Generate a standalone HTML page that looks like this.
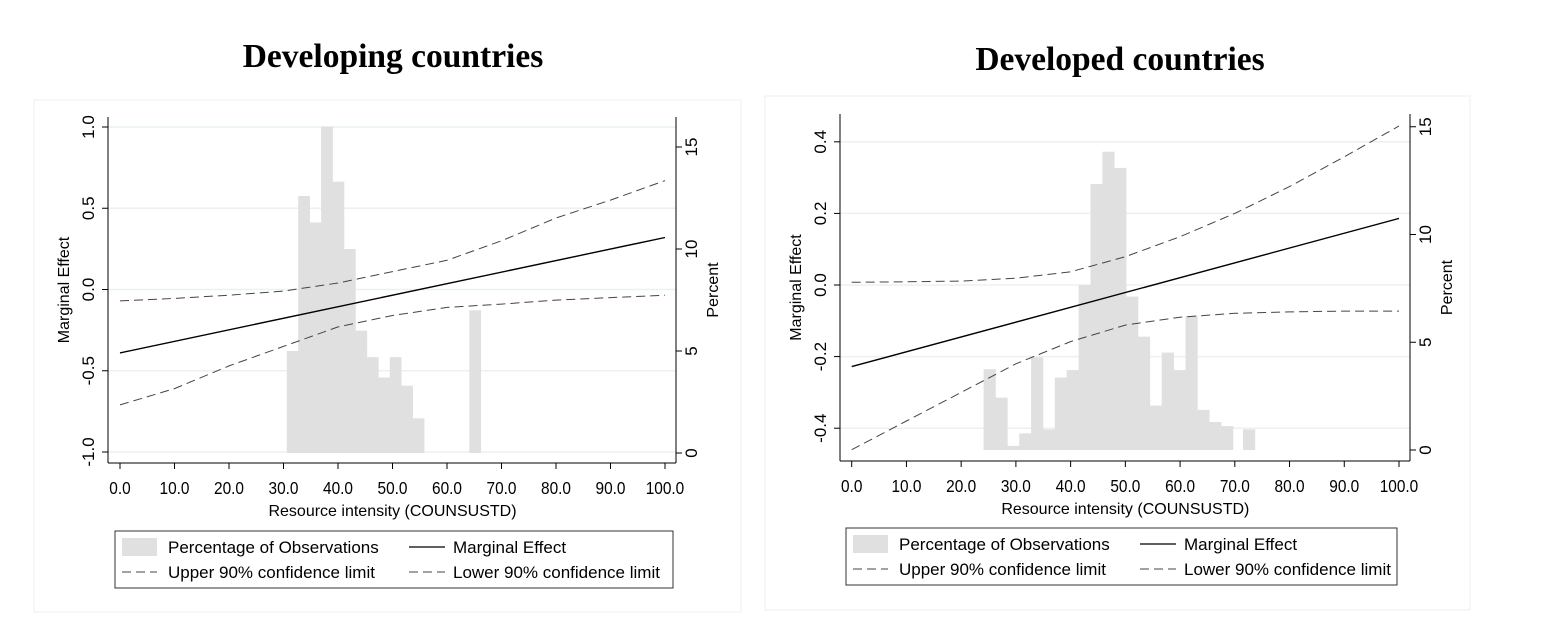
<!DOCTYPE html>
<html><head><meta charset="utf-8"><style>
body{margin:0;background:#fff;width:1552px;height:636px;overflow:hidden;font-family:"Liberation Sans",sans-serif}
svg text{font-family:"Liberation Sans",sans-serif}
</style></head><body>
<svg id="s" width="1552" height="636" xmlns="http://www.w3.org/2000/svg">
<rect x="34" y="100" width="707" height="512" fill="none" stroke="#eef0f0"/>
<rect x="765" y="96" width="705" height="514" fill="none" stroke="#eef0f0"/>
<text x="393" y="67" text-anchor="middle" font-weight="bold" font-size="33.5" style="font-family:'Liberation Serif',serif">Developing countries</text>
<text x="1120" y="70" text-anchor="middle" font-weight="bold" font-size="33.5" style="font-family:'Liberation Serif',serif">Developed countries</text>
</svg>
<script>
// Developing countries data
const devBinStart = [30.6,32.7,34.8,36.9,39.0,41.1,43.2,45.3,47.4,49.5,51.6,53.7,64.1];
const devBinPct = [5.0,12.6,11.3,16.0,13.3,10.0,6.0,4.7,3.7,4.7,3.3,1.7,7.0];
const devMeX = [0,100];
const devMe = [-0.39,0.32];
const devCiX = [0,10,20,30,40,50,60,70,80,90,100];
const devUpper = [-0.07,-0.055,-0.035,-0.01,0.04,0.11,0.18,0.30,0.44,0.55,0.67];
const devLower = [-0.71,-0.61,-0.47,-0.35,-0.23,-0.16,-0.11,-0.09,-0.065,-0.05,-0.035];
const devLeftTicks = ["-1.0","-0.5","0.0","0.5","1.0"];
const devRightTicks = ["0","5","10","15"];
// Developed countries data
const dvdBinStart = [24.1,26.27,28.44,30.61,32.78,34.95,37.12,39.29,41.46,43.63,45.8,47.97,50.14,52.31,54.48,56.65,58.82,60.99,63.16,65.33,67.5,71.5];
const dvdBinPct = [3.75,2.43,0.19,0.77,4.3,0.96,3.36,3.71,7.66,12.34,13.84,13.09,7.12,5.26,2.06,4.52,3.71,6.22,1.86,1.30,1.11,0.96];
const dvdMeX = [0,100];
const dvdMe = [-0.228,0.186];
const dvdCiX = [0,10,20,30,40,50,60,70,80,90,100];
const dvdUpper = [0.0075,0.009,0.011,0.019,0.037,0.079,0.135,0.2,0.275,0.358,0.444];
const dvdLower = [-0.46,-0.38,-0.30,-0.22,-0.158,-0.112,-0.09,-0.079,-0.075,-0.073,-0.073];
const dvdLeftTicks = ["-0.4","-0.2","0.0","0.2","0.4"];
const dvdRightTicks = ["0","5","10","15"];
const xTicks = ["0.0","10.0","20.0","30.0","40.0","50.0","60.0","70.0","80.0","90.0","100.0"];

const svg=document.getElementById('s');
const NS='http://www.w3.org/2000/svg';
function mk(tag,attrs,parent){const e=document.createElementNS(NS,tag);for(const k in attrs)e.setAttribute(k,attrs[k]);(parent||svg).appendChild(e);return e;}

function drawChart(c){
  const g=mk('g',{});
  
  
  const xs=v=>c.x0+(v-0)*(c.x100-c.x0)/100;
  const ys=v=>c.yZero+(v-c.lMid)*c.lPx;
  const ps=v=>c.pZero-v*c.pPx;
  c.leftTicks.forEach(t=>{const v=parseFloat(t);const y=ys(v);
    const l=mk('line',{x1:c.axL,x2:c.axR,y1:y,y2:y,stroke:'#eaf1f1','stroke-width':1.5},g);
    });
  const bw=c.binW*(c.x100-c.x0)/100;
  c.binStart.forEach((b,i)=>{const x=xs(b);const y=ps(c.binPct[i]);
    const r=mk('rect',{x:x,y:y,width:bw+0.3,height:c.pZero-y,fill:'#e0e0e0'},g);
    });
  const path=(X,Y)=>X.map((x,i)=>(i?'L':'M')+xs(x).toFixed(1)+' '+ys(Y[i]).toFixed(1)).join(' ');
  let p=mk('path',{d:path(c.ciX,c.upper),fill:'none',stroke:'#444','stroke-width':1,'stroke-dasharray':'9 5'},g);
  
  p=mk('path',{d:path(c.ciX,c.lower),fill:'none',stroke:'#444','stroke-width':1,'stroke-dasharray':'9 5'},g);
  
  p=mk('path',{d:path(c.meX,c.me),fill:'none',stroke:'#000','stroke-width':1.4},g);
  
  let a=mk('line',{x1:c.axL,x2:c.axL,y1:c.axT,y2:c.axB,stroke:'#000'},g);
  
  a=mk('line',{x1:c.axR,x2:c.axR,y1:c.axT,y2:c.axB,stroke:'#000'},g);
  
  a=mk('line',{x1:c.axL,x2:c.axR,y1:c.axB,y2:c.axB,stroke:'#000'},g);
  
  xTicks.forEach(t=>{const x=xs(parseFloat(t));
    mk('line',{x1:x,x2:x,y1:c.axB,y2:c.axB+6,stroke:'#000'},g);
    const tx=mk('text',{x:x/0.88,y:c.axB+31,'text-anchor':'middle','font-size':17.5,transform:'scale(0.88,1)'},g);
    tx.textContent=t;});
  c.leftTicks.forEach(t=>{const y=ys(parseFloat(t));
    mk('line',{x1:c.axL-6,x2:c.axL,y1:y,y2:y,stroke:'#000'},g);
    const tx=mk('text',{x:0,y:0,'text-anchor':'middle','font-size':17,transform:`translate(${c.axL-14},${y}) rotate(-90)`},g);
    tx.textContent=t;});
  c.rightTicks.forEach(t=>{const y=ps(parseFloat(t));
    mk('line',{x1:c.axR,x2:c.axR+6,y1:y,y2:y,stroke:'#000'},g);
    const tx=mk('text',{x:0,y:0,'text-anchor':'middle','font-size':17,transform:`translate(${c.axR+21},${y}) rotate(-90)`},g);
    tx.textContent=t;});
  let tt=mk('text',{x:0,y:0,'text-anchor':'middle','font-size':16,transform:`translate(${c.axL-39},${(c.axT+c.axB)/2}) rotate(-90)`},g);
  tt.textContent='Marginal Effect';
  tt=mk('text',{x:0,y:0,'text-anchor':'middle','font-size':16,transform:`translate(${c.axR+42},${(c.axT+c.axB)/2}) rotate(-90)`},g);
  tt.textContent='Percent';
  tt=mk('text',{x:(c.x0+c.x100)/2,y:c.axB+53,'text-anchor':'middle','font-size':16},g);
  tt.textContent='Resource intensity (COUNSUSTD)';
  const L=c.leg;
  const lg=mk('g',{},g);
  
  mk('rect',{x:L.x,y:L.y,width:L.w,height:57,fill:'#fff',stroke:'#333'},lg);
  mk('rect',{x:L.x+7,y:L.y+7,width:35,height:18,fill:'#e0e0e0'},lg);
  mk('line',{x1:L.x+294,x2:L.x+330,y1:L.y+16,y2:L.y+16,stroke:'#000','stroke-width':1.3},lg);
  mk('line',{x1:L.x+7,x2:L.x+42,y1:L.y+41,y2:L.y+41,stroke:'#444','stroke-dasharray':'9 5'},lg);
  mk('line',{x1:L.x+294,x2:L.x+330,y1:L.y+41,y2:L.y+41,stroke:'#444','stroke-dasharray':'9 5'},lg);
  [['Percentage of Observations',53,22,'legend-histogram'],['Marginal Effect',338,22,'legend-marginal-effect'],['Upper 90% confidence limit',53,47,'legend-upper-ci'],['Lower 90% confidence limit',338,47,'legend-lower-ci']].forEach(d=>{
    const t=mk('text',{x:L.x+d[1],y:L.y+d[2],'font-size':17},lg);t.textContent=d[0];
    });
}
drawChart({name:'developing-chart',x0:120,x100:665,yZero:289.5,lMid:0,lPx:-162.5,pZero:453,pPx:20.4,axL:108,axR:676,axT:117,axB:463,
  binW:2.1,binStart:devBinStart,binPct:devBinPct,meX:devMeX,me:devMe,ciX:devCiX,upper:devUpper,lower:devLower,
  leftTicks:devLeftTicks,rightTicks:devRightTicks,leg:{x:115,y:531,w:558}});
drawChart({name:'developed-chart',x0:851.7,x100:1399,yZero:285,lMid:0,lPx:-358,pZero:450,pPx:21.55,axL:840,axR:1410,axT:114,axB:461,
  binW:2.17,binStart:dvdBinStart,binPct:dvdBinPct,meX:dvdMeX,me:dvdMe,ciX:dvdCiX,upper:dvdUpper,lower:dvdLower,
  leftTicks:dvdLeftTicks,rightTicks:dvdRightTicks,leg:{x:846,y:528,w:551}});
</script>
</body></html>
